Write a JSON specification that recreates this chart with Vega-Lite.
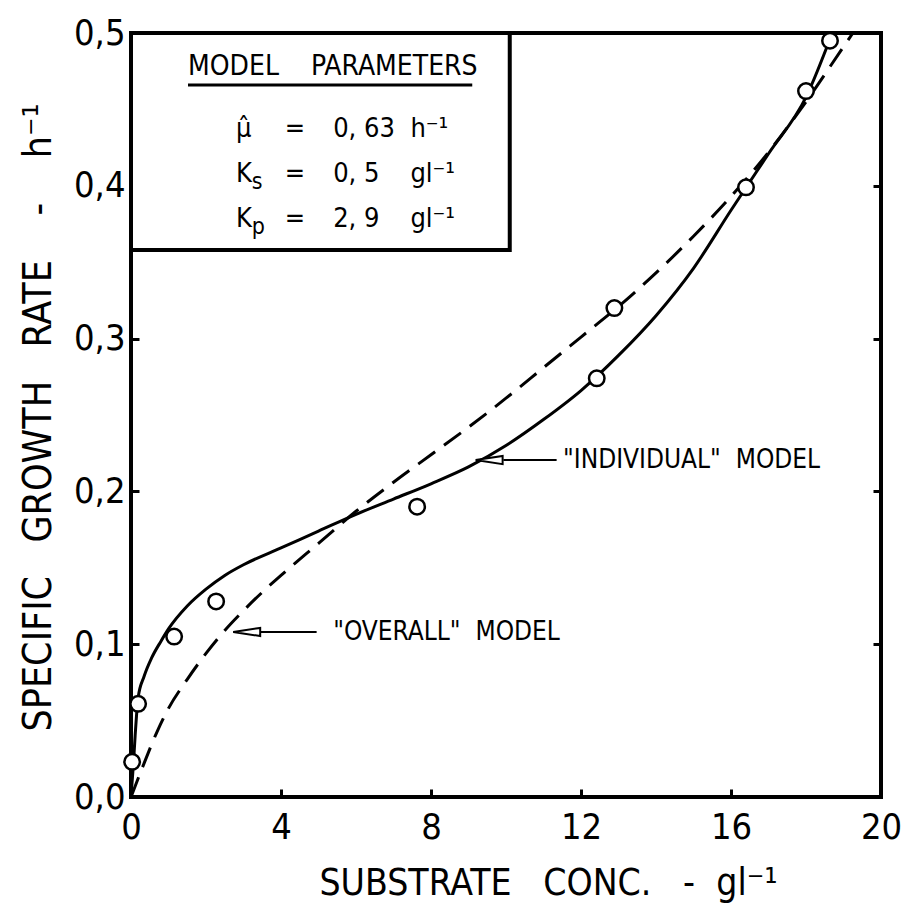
{
  "$schema": "https://vega.github.io/schema/vega-lite/v6.json",
  "width": 750,
  "height": 764,
  "autosize": {"type": "none"},
  "padding": {"left": 131, "top": 33, "right": 20, "bottom": 118},
  "background": "white",
  "datasets": {
    "curves": [
      {"model": "individual", "x": 0, "y": 0},
      {"model": "individual", "x": 0.06, "y": 0.02},
      {"model": "individual", "x": 0.11, "y": 0.04},
      {"model": "individual", "x": 0.19, "y": 0.065},
      {"model": "individual", "x": 0.35, "y": 0.079},
      {"model": "individual", "x": 0.55, "y": 0.091},
      {"model": "individual", "x": 0.8, "y": 0.102},
      {"model": "individual", "x": 1.0, "y": 0.11},
      {"model": "individual", "x": 1.5, "y": 0.125},
      {"model": "individual", "x": 2.0, "y": 0.136},
      {"model": "individual", "x": 2.5, "y": 0.145},
      {"model": "individual", "x": 3.0, "y": 0.152},
      {"model": "individual", "x": 4.0, "y": 0.163},
      {"model": "individual", "x": 5.0, "y": 0.174},
      {"model": "individual", "x": 6.0, "y": 0.185},
      {"model": "individual", "x": 7.0, "y": 0.195},
      {"model": "individual", "x": 8.0, "y": 0.205},
      {"model": "individual", "x": 9.0, "y": 0.216},
      {"model": "individual", "x": 10.0, "y": 0.23},
      {"model": "individual", "x": 11.0, "y": 0.247},
      {"model": "individual", "x": 12.0, "y": 0.266},
      {"model": "individual", "x": 13.0, "y": 0.289},
      {"model": "individual", "x": 14.0, "y": 0.315},
      {"model": "individual", "x": 15.0, "y": 0.346},
      {"model": "individual", "x": 16.0, "y": 0.384},
      {"model": "individual", "x": 17.0, "y": 0.421},
      {"model": "individual", "x": 18.0, "y": 0.458},
      {"model": "individual", "x": 18.7, "y": 0.5},
      {"model": "overall", "x": 0, "y": 0},
      {"model": "overall", "x": 0.3, "y": 0.019},
      {"model": "overall", "x": 0.7, "y": 0.043},
      {"model": "overall", "x": 1.0, "y": 0.058},
      {"model": "overall", "x": 1.5, "y": 0.077},
      {"model": "overall", "x": 2.0, "y": 0.094},
      {"model": "overall", "x": 2.5, "y": 0.109},
      {"model": "overall", "x": 3.0, "y": 0.122},
      {"model": "overall", "x": 3.5, "y": 0.134},
      {"model": "overall", "x": 4.0, "y": 0.145},
      {"model": "overall", "x": 5.0, "y": 0.166},
      {"model": "overall", "x": 6.0, "y": 0.187},
      {"model": "overall", "x": 7.0, "y": 0.206},
      {"model": "overall", "x": 8.0, "y": 0.224},
      {"model": "overall", "x": 9.0, "y": 0.242},
      {"model": "overall", "x": 10.0, "y": 0.261},
      {"model": "overall", "x": 11.0, "y": 0.281},
      {"model": "overall", "x": 12.0, "y": 0.301},
      {"model": "overall", "x": 13.0, "y": 0.321},
      {"model": "overall", "x": 14.0, "y": 0.343},
      {"model": "overall", "x": 15.0, "y": 0.367},
      {"model": "overall", "x": 16.0, "y": 0.393},
      {"model": "overall", "x": 17.0, "y": 0.422},
      {"model": "overall", "x": 18.0, "y": 0.455},
      {"model": "overall", "x": 19.0, "y": 0.491},
      {"model": "overall", "x": 19.25, "y": 0.5}
    ],
    "measured": [
      {"x": 0.03, "y": 0.023},
      {"x": 0.19, "y": 0.061},
      {"x": 1.15, "y": 0.105},
      {"x": 2.27, "y": 0.128},
      {"x": 7.63, "y": 0.19},
      {"x": 12.42, "y": 0.274},
      {"x": 12.89, "y": 0.32},
      {"x": 16.4, "y": 0.399},
      {"x": 18.0, "y": 0.462},
      {"x": 18.64, "y": 0.495}
    ],
    "params": [
      {"sym": "μ̂", "sub": "", "val": "0, 63", "unit": "h⁻¹", "row": 0.4319},
      {"sym": "K", "sub": "s", "val": "0, 5", "unit": "gl⁻¹", "row": 0.4025},
      {"sym": "K", "sub": "p", "val": "2, 9", "unit": "gl⁻¹", "row": 0.373}
    ],
    "notes": [
      {"label": "\"OVERALL\"\u00a0\u00a0MODEL", "tip": 3.085, "lineFrom": 3.44, "lineTo": 4.95, "textX": 5.39, "y": 0.108},
      {"label": "\"INDIVIDUAL\"\u00a0\u00a0MODEL", "tip": 9.55, "lineFrom": 9.93, "lineTo": 11.35, "textX": 11.52, "y": 0.2205}
    ]
  },
  "config": {
    "font": "DejaVu Sans Condensed, sans-serif",
    "view": {"stroke": "black", "strokeWidth": 4},
    "axis": {
      "domain": false,
      "grid": false,
      "tickColor": "black",
      "tickWidth": 3,
      "labelColor": "black",
      "titleColor": "black",
      "labelFont": "DejaVu Sans Condensed, sans-serif",
      "titleFont": "DejaVu Sans Condensed, sans-serif",
      "labelFontSize": 36,
      "titleFontSize": 39,
      "titleFontWeight": "normal"
    },
    "text": {"font": "DejaVu Sans Condensed, sans-serif", "color": "black"}
  },
  "resolve": {"axis": {"x": "independent", "y": "independent"}},
  "layer": [
    {
      "data": {"name": "curves"},
      "transform": [{"filter": "datum.model === 'individual'"}],
      "mark": {"type": "line", "color": "black", "strokeWidth": 3, "interpolate": "monotone"},
      "encoding": {
        "x": {
          "field": "x", "type": "quantitative",
          "scale": {"domain": [0, 20], "nice": false, "zero": false},
          "axis": {
            "values": [0, 4, 8, 12, 16, 20],
            "format": "d",
            "tickSize": -8,
            "labelPadding": 21,
            "labelFlush": false,
            "title": "SUBSTRATE\u00a0\u00a0\u00a0CONC.\u00a0\u00a0\u00a0-\u00a0\u00a0gl⁻¹",
            "titleFontSize": 37,
            "titleX": 417,
            "titleY": 97,
            "titleAlign": "center",
            "titleBaseline": "alphabetic"
          }
        },
        "y": {
          "field": "y", "type": "quantitative",
          "scale": {"domain": [0, 0.5], "nice": false, "zero": false},
          "axis": {
            "values": [0, 0.1, 0.2, 0.3, 0.4, 0.5],
            "labelExpr": "replace(format(datum.value, '.1f'), '.', ',')",
            "tickSize": -8,
            "labelPadding": 14,
            "labelFlush": false,
            "title": "SPECIFIC\u00a0\u00a0\u00a0GROWTH\u00a0\u00a0\u00a0RATE\u00a0\u00a0\u00a0\u00a0-\u00a0\u00a0\u00a0\u00a0h⁻¹",
            "titleAngle": -90,
            "titleX": -93,
            "titleY": 384,
            "titleAlign": "center",
            "titleBaseline": "middle"
          }
        }
      }
    },
    {
      "data": {"name": "curves"},
      "transform": [{"filter": "datum.model === 'overall'"}],
      "mark": {"type": "line", "color": "black", "strokeWidth": 3, "strokeDash": [21, 11], "interpolate": "monotone"},
      "encoding": {
        "x": {"field": "x", "type": "quantitative", "axis": null},
        "y": {"field": "y", "type": "quantitative", "axis": null}
      }
    },
    {
      "data": {"name": "measured"},
      "mark": {"type": "point", "shape": "circle", "filled": true, "fill": "white", "stroke": "black", "strokeWidth": 2.5, "size": 240, "opacity": 1},
      "encoding": {
        "x": {"field": "x", "type": "quantitative", "axis": null},
        "y": {
          "field": "y", "type": "quantitative",
          "axis": {"orient": "right", "values": [0.1, 0.2, 0.3, 0.4], "labels": false, "tickSize": -8, "title": null}
        }
      }
    },
    {
      "data": {"values": [{}]},
      "mark": {"type": "rect", "fill": "white", "stroke": "black", "strokeWidth": 4},
      "encoding": {
        "x": {"datum": 0, "axis": null},
        "x2": {"datum": 10.1},
        "y": {"datum": 0.358, "axis": null},
        "y2": {"datum": 0.5}
      }
    },
    {
      "data": {"values": [{"t": "MODEL\u00a0\u00a0\u00a0\u00a0PARAMETERS"}]},
      "mark": {"type": "text", "align": "left", "baseline": "alphabetic", "fontSize": 28},
      "encoding": {
        "x": {"datum": 1.52, "axis": null},
        "y": {"datum": 0.4725, "axis": null},
        "text": {"field": "t"}
      }
    },
    {
      "data": {"values": [{}]},
      "mark": {"type": "rule", "color": "black", "strokeWidth": 3},
      "encoding": {
        "x": {"datum": 1.52, "axis": null},
        "x2": {"datum": 9.1},
        "y": {"datum": 0.466, "axis": null}
      }
    },
    {
      "data": {"name": "params"},
      "mark": {"type": "text", "align": "left", "baseline": "alphabetic", "fontSize": 27},
      "encoding": {
        "x": {"datum": 2.8, "axis": null},
        "y": {"field": "row", "type": "quantitative", "axis": null},
        "text": {"field": "sym"}
      }
    },
    {
      "data": {"name": "params"},
      "mark": {"type": "text", "align": "left", "baseline": "alphabetic", "fontSize": 23, "dy": 7},
      "encoding": {
        "x": {"datum": 3.22, "axis": null},
        "y": {"field": "row", "type": "quantitative", "axis": null},
        "text": {"field": "sub"}
      }
    },
    {
      "data": {"name": "params"},
      "mark": {"type": "text", "align": "center", "baseline": "alphabetic", "fontSize": 27},
      "encoding": {
        "x": {"datum": 4.37, "axis": null},
        "y": {"field": "row", "type": "quantitative", "axis": null},
        "text": {"value": "="}
      }
    },
    {
      "data": {"name": "params"},
      "mark": {"type": "text", "align": "left", "baseline": "alphabetic", "fontSize": 27},
      "encoding": {
        "x": {"datum": 5.39, "axis": null},
        "y": {"field": "row", "type": "quantitative", "axis": null},
        "text": {"field": "val"}
      }
    },
    {
      "data": {"name": "params"},
      "mark": {"type": "text", "align": "left", "baseline": "alphabetic", "fontSize": 27},
      "encoding": {
        "x": {"datum": 7.45, "axis": null},
        "y": {"field": "row", "type": "quantitative", "axis": null},
        "text": {"field": "unit"}
      }
    },
    {
      "data": {"name": "notes"},
      "mark": {"type": "rule", "color": "black", "strokeWidth": 2},
      "encoding": {
        "x": {"field": "lineFrom", "type": "quantitative", "axis": null},
        "x2": {"field": "lineTo"},
        "y": {"field": "y", "type": "quantitative", "axis": null}
      }
    },
    {
      "data": {"name": "notes"},
      "mark": {"type": "point", "shape": "M-1,0L1,-0.3L1,0.3Z", "filled": true, "fill": "white", "stroke": "black", "strokeWidth": 2, "size": 729, "opacity": 1},
      "encoding": {
        "x": {"field": "tip", "type": "quantitative", "axis": null},
        "y": {"field": "y", "type": "quantitative", "axis": null}
      }
    },
    {
      "data": {"name": "notes"},
      "mark": {"type": "text", "align": "left", "baseline": "middle", "fontSize": 26},
      "encoding": {
        "x": {"field": "textX", "type": "quantitative", "axis": null},
        "y": {"field": "y", "type": "quantitative", "axis": null},
        "text": {"field": "label"}
      }
    }
  ]
}
